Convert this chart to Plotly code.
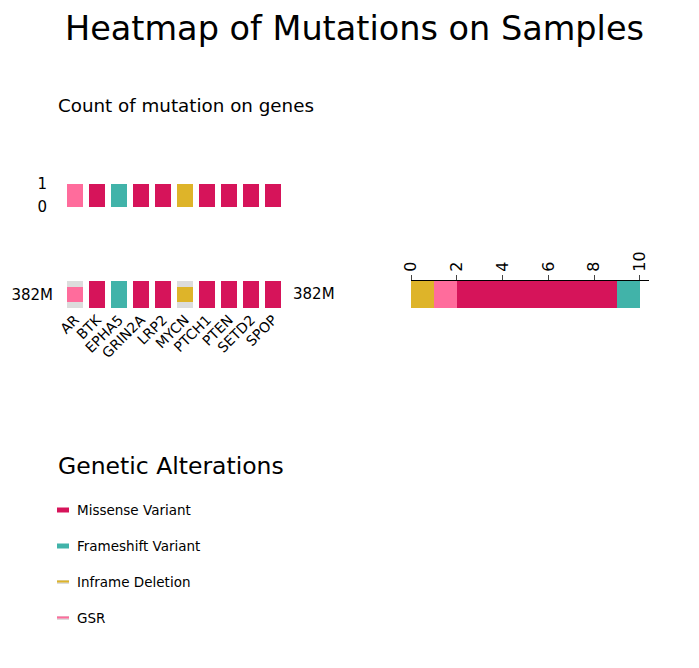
import plotly.graph_objects as go

# ------------------- Datos -------------------
genes = ['AR', 'BTK', 'EPHA5', 'GRIN2A', 'LRP2', 'MYCN', 'PTCH1', 'PTEN', 'SETD2', 'SPOP']
alteracion = ['GSR', 'Missense Variant', 'Frameshift Variant', 'Missense Variant', 'Missense Variant',
              'Inframe Deletion', 'Missense Variant', 'Missense Variant', 'Missense Variant', 'Missense Variant']
muestra = '382M'
tipos = ['Inframe Deletion', 'GSR', 'Missense Variant', 'Frameshift Variant']
conteo_tipos = [1, 1, 7, 1]
leyenda = ['Missense Variant', 'Frameshift Variant', 'Inframe Deletion', 'GSR']

colores = {'Missense Variant': '#D6145A', 'Frameshift Variant': '#41B3A9',
           'Inframe Deletion': '#DEB429', 'GSR': '#FF6C9C'}
gris = '#DCDCDC'
W, H = 699, 668
fuente = 'DejaVu Sans'

def px(x0, x1): return [x0 / W, x1 / W]
def py(y0, y1): return [1 - y1 / H, 1 - y0 / H]

fig = go.Figure()
# barras superiores: conteo por gen
for t in tipos:
    ys = [1 if a == t else 0 for a in alteracion]
    fig.add_trace(go.Bar(x=genes, y=ys, marker_color=colores[t], marker_line_width=0, width=0.7,
                         xaxis='x', yaxis='y', showlegend=False))
# heatmap: fondo gris para alteraciones parciales
parcial = ['Inframe Deletion', 'GSR']
fig.add_trace(go.Bar(x=genes, y=[1 if a in parcial else 0 for a in alteracion], marker_color=gris,
                     marker_line_width=0, width=0.7, xaxis='x2', yaxis='y2', showlegend=False))
for g, a in zip(genes, alteracion):
    if a in parcial:
        fig.add_trace(go.Bar(x=[g], y=[0.56], base=[0.22], marker_color=colores[a], marker_line_width=0,
                             width=0.7, xaxis='x2', yaxis='y2', showlegend=False))
    else:
        fig.add_trace(go.Bar(x=[g], y=[1], marker_color=colores[a], marker_line_width=0, width=0.7,
                             xaxis='x2', yaxis='y2', showlegend=False))
# barra derecha apilada
for t, c in zip(tipos, conteo_tipos):
    fig.add_trace(go.Bar(x=[c], y=[muestra], orientation='h', marker_color=colores[t], marker_line_width=0,
                         width=1, xaxis='x3', yaxis='y3', showlegend=False))

fig.update_layout(
    width=W, height=H, margin=dict(l=0, r=0, t=0, b=0), barmode='stack',
    plot_bgcolor='white', paper_bgcolor='white', font=dict(family=fuente, color='black'),
    title=dict(text='Heatmap of Mutations on Samples', x=0.5 - 3 / W, xanchor='center', y=1 - 20 / H,
               yanchor='middle', font=dict(size=33.5)),
    xaxis=dict(domain=px(56, 276), range=[-0.5, 9.5], showticklabels=False, showline=False, ticks='',
               automargin=False),
    yaxis=dict(domain=py(176, 199), range=[0, 1], tickvals=[0, 1], showgrid=False, zeroline=False,
               tickfont=dict(size=15), ticks='', ticklabelstandoff=16, automargin=False),
    xaxis2=dict(domain=px(56, 276), range=[-0.5, 9.5], tickangle=-45, tickfont=dict(size=14), ticks='',
                anchor='y2', automargin=False),
    yaxis2=dict(domain=py(273, 300), range=[0, 1], tickvals=[0.5], ticktext=[muestra], showgrid=False,
                zeroline=False, tickfont=dict(size=15), ticklabelstandoff=10, automargin=False),
    xaxis3=dict(domain=px(403, 641), range=[0, 10.4], side='top', tickangle=-90, tickvals=[0, 2, 4, 6, 8, 10],
                ticks='outside', ticklen=5, showline=True, linecolor='black', showgrid=False, zeroline=False,
                tickfont=dict(size=16), anchor='y3', automargin=False),
    yaxis3=dict(domain=py(273, 300), range=[-0.5, 0.5], showticklabels=False, anchor='x3', automargin=False),
)

anot = [
    dict(text='Count of mutation on genes', x=48 / W, y=1 - 97 / H, xanchor='left', yanchor='middle', font=dict(size=18.3)),
    dict(text=muestra, x=329 / W, y=1 - 286 / H, xanchor='right', yanchor='middle', font=dict(size=15)),
    dict(text='Genetic Alterations', x=48 / W, y=1 - 458 / H, xanchor='left', yanchor='middle', font=dict(size=23.5)),
]
formas = []
for i, t in enumerate(leyenda):
    yc = 502 + 36 * i
    anot.append(dict(text=t, x=67 / W, y=1 - yc / H, xanchor='left', yanchor='middle', font=dict(size=13.5)))
    if t in parcial:
        formas.append(dict(type='rect', xref='paper', yref='paper', x0=49 / W, x1=61 / W,
                           y0=1 - (yc + 2) / H, y1=1 - (yc - 2) / H, fillcolor=gris, line_width=0))
        formas.append(dict(type='rect', xref='paper', yref='paper', x0=49 / W, x1=61 / W,
                           y0=1 - (yc + 0.5) / H, y1=1 - (yc - 1.5) / H, fillcolor=colores[t], line_width=0))
    else:
        formas.append(dict(type='rect', xref='paper', yref='paper', x0=49 / W, x1=61 / W,
                           y0=1 - (yc + 2.5) / H, y1=1 - (yc - 2.5) / H, fillcolor=colores[t], line_width=0))
for a in anot:
    a.update(xref='paper', yref='paper', showarrow=False)
fig.update_layout(annotations=anot, shapes=formas)

fig.write_html('out.html')
